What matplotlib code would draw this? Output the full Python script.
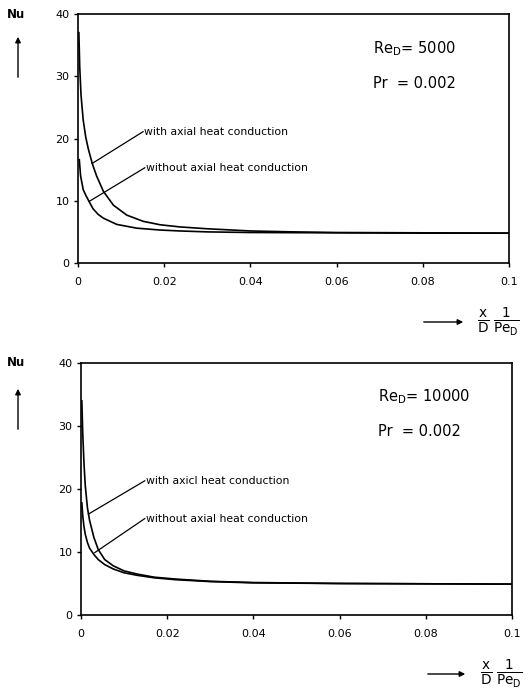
import matplotlib
matplotlib.use("Agg")
import matplotlib.pyplot as plt
from matplotlib.patches import FancyArrowPatch
from matplotlib.ticker import FixedLocator, FixedFormatter

# --- data (Nu vs x/D * 1/Pe_D) ---
X_TICKS = [0, 0.02, 0.04, 0.06, 0.08, 0.1]
X_TICK_LABELS = ["0", "0.02", "0.04", "0.06", "0.08", "0.1"]
Y_TICKS = [0, 10, 20, 30, 40]

# Re_D = 5000
top_with_x = [0.0002, 0.0004, 0.0007, 0.0012, 0.0018, 0.0024, 0.0033, 0.0043, 0.0059,
              0.0082, 0.0113, 0.0151, 0.019, 0.0236, 0.03, 0.04, 0.05, 0.06, 0.08, 0.1]
top_with_y = [37.0, 31.5, 27.0, 23.0, 20.2, 18.3, 16.0, 14.0, 11.5,
              9.3, 7.7, 6.7, 6.15, 5.8, 5.5, 5.15, 5.0, 4.9, 4.85, 4.8]
top_without_x = [0.0003, 0.0006, 0.0012, 0.0018, 0.0024, 0.0035, 0.0047, 0.0059, 0.009,
                 0.0136, 0.019, 0.0236, 0.03, 0.04, 0.06, 0.08, 0.1]
top_without_y = [16.6, 14.0, 11.8, 10.9, 10.1, 8.7, 7.8, 7.2, 6.2,
                 5.6, 5.3, 5.15, 5.0, 4.9, 4.85, 4.8, 4.8]

# Re_D = 10000
bot_with_x = [0.0002, 0.0004, 0.0007, 0.001, 0.0015, 0.002, 0.003, 0.004, 0.0055, 0.0075,
              0.01, 0.013, 0.017, 0.022, 0.03, 0.04, 0.06, 0.08, 0.1]
bot_with_y = [34.0, 29.0, 24.0, 20.5, 17.0, 15.0, 12.3, 10.4, 8.8, 7.8,
              7.0, 6.5, 6.0, 5.7, 5.35, 5.15, 5.0, 4.95, 4.9]
bot_without_x = [0.0002, 0.0004, 0.0007, 0.001, 0.0015, 0.002, 0.003, 0.004, 0.0055, 0.0075,
                 0.01, 0.013, 0.017, 0.022, 0.03, 0.04, 0.06, 0.08, 0.1]
bot_without_y = [17.8, 15.8, 14.0, 12.8, 11.5, 10.6, 9.6, 8.8, 8.0, 7.3,
                 6.7, 6.3, 5.9, 5.6, 5.3, 5.1, 5.0, 4.95, 4.9]

panels = [
    dict(rect=[0.1469, 0.6221, 0.8117, 0.3578],
         wx=top_with_x, wy=top_with_y, ox=top_without_x, oy=top_without_y,
         with_label="with axial heat conduction",
         without_label="without axial heat conduction",
         lead_with=((0.0033, 16.0), (0.0151, 21.1)),
         lead_without=((0.0026, 9.9), (0.0155, 15.3)),
         re="5000", re_xy=(0.0684, 34.5), pr_y=28.9,
         nu_y=15, arrow_y=(80, 34), xarrow_y=322, xarrow_x=(421, 466), frac_x=477),
    dict(rect=[0.1525, 0.1164, 0.8117, 0.3621],
         wx=bot_with_x, wy=bot_with_y, ox=bot_without_x, oy=bot_without_y,
         with_label="with axicl heat conduction",
         without_label="without axial heat conduction",
         lead_with=((0.0017, 16.0), (0.0148, 21.3)),
         lead_without=((0.0032, 9.9), (0.0148, 15.3)),
         re="10000", re_xy=(0.0689, 34.6), pr_y=29.1,
         nu_y=363, arrow_y=(432, 386), xarrow_y=674, xarrow_x=(425, 468), frac_x=480),
]

W, H = 531, 696
fig = plt.figure(figsize=(W / 100, H / 100), dpi=100)
fig.patch.set_facecolor("white")


def fx(px):
    return px / W


def fy(py):
    return 1 - py / H


for p in panels:
    ax = fig.add_axes(p["rect"])
    ax.plot(p["wx"], p["wy"], color="black", lw=1.2, solid_joinstyle="round")
    ax.plot(p["ox"], p["oy"], color="black", lw=1.2, solid_joinstyle="round")
    ax.set_xlim(0, 0.1)
    ax.set_ylim(0, 40)
    ax.xaxis.set_major_locator(FixedLocator(X_TICKS))
    ax.xaxis.set_major_formatter(FixedFormatter(X_TICK_LABELS))
    ax.yaxis.set_major_locator(FixedLocator(Y_TICKS))
    ax.tick_params(direction="out", length=3, width=1, labelsize=8, pad=7)
    ax.tick_params(axis="y", pad=3)
    for s in ax.spines.values():
        s.set_linewidth(1.2)

    # leader lines + labels
    for (a, b), lab in ((p["lead_with"], p["with_label"]),
                        (p["lead_without"], p["without_label"])):
        ax.plot([a[0], b[0]], [a[1], b[1]], color="black", lw=0.9)
        ax.text(b[0] + 0.0002, b[1], lab, fontsize=7.8, va="center", ha="left")

    ax.text(p["re_xy"][0], p["re_xy"][1], "Re$_\\mathregular{D}$= " + p["re"],
            fontsize=10.5, va="center", ha="left")
    ax.text(p["re_xy"][0], p["pr_y"], "Pr  = 0.002",
            fontsize=10.5, va="center", ha="left")

    # Nu label with upward arrow
    fig.text(fx(16), fy(p["nu_y"]), "Nu", fontsize=8.5, fontweight="bold",
             ha="center", va="center")
    fig.add_artist(FancyArrowPatch(
        (fx(18), fy(p["arrow_y"][0])), (fx(18), fy(p["arrow_y"][1])),
        transform=fig.transFigure, arrowstyle="-|>", mutation_scale=8,
        color="black", lw=1.0))

    # x label: arrow + fraction
    fig.add_artist(FancyArrowPatch(
        (fx(p["xarrow_x"][0]), fy(p["xarrow_y"])), (fx(p["xarrow_x"][1]), fy(p["xarrow_y"])),
        transform=fig.transFigure, arrowstyle="-|>", mutation_scale=8,
        color="black", lw=1.0))
    fig.text(fx(p["frac_x"]), fy(p["xarrow_y"]),
             r"$\mathregular{\frac{x}{D}\,\frac{1}{Pe_D}}$",
             fontsize=14, ha="left", va="center")

fig.savefig("out.png", dpi=100, facecolor="white")
